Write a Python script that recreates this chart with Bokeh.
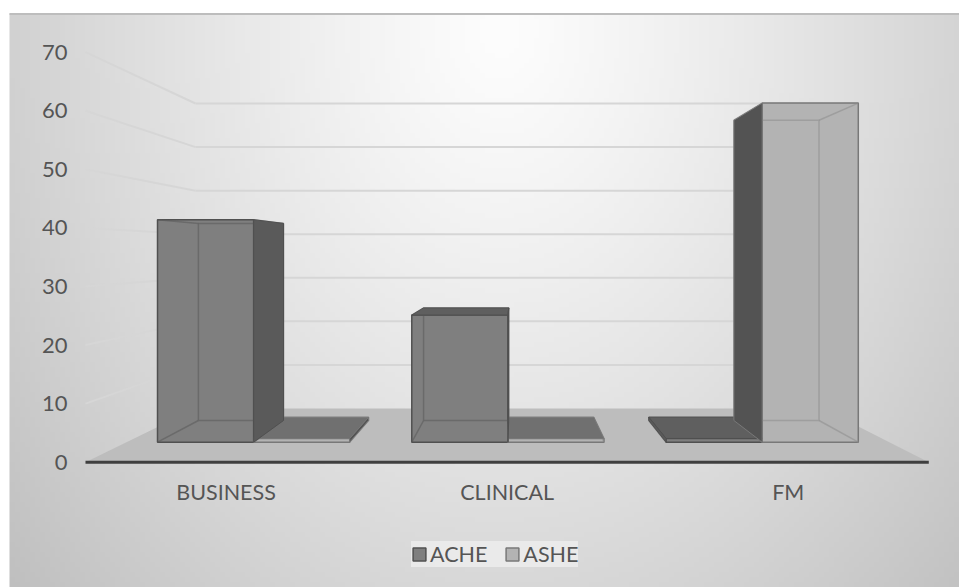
import numpy as np
from bokeh.plotting import figure
from bokeh.models import ColumnDataSource, Range1d, Legend, LegendItem
from bokeh.core.properties import value
from bokeh.embed import file_html
from bokeh.resources import INLINE

# ---- data -------------------------------------------------------------
categories = ["BUSINESS", "CLINICAL", "FM"]
series_names = ["ACHE", "ASHE"]
ache = [42, 24, 0]
ashe = [0, 0, 64]
y_ticks = [0, 10, 20, 30, 40, 50, 60, 70]

# ---- canvas / perspective set-up --------------------------------------
W, H = 959, 587
X_PX = 281.1            # pixels per category unit on the front plane
Y_PX = 5.857            # pixels per value unit on the front plane
ORIGIN = (85.0, 461.7)  # front-left floor corner (screen px)
VX = 1.528              # vanishing point, category units
EYE = 35.8              # horizon height, value units
BACK_Z = 0.3443         # depth of the back wall
BAR_Z = (0.1055, 0.2483)  # front / back depth of the columns
BAR_W = 0.378           # column width, category units
SLAB = 0.7              # drawn thickness of a zero column
FONT = "Lato"
TEXT_COLOR = "#555555"

STYLE = {
    "ACHE": dict(front="#7f7f7f", top="#5f5f5f", side="#5a5a5a", edge="#505050", inner="#5a5a5a"),
    "ASHE": dict(front="#b3b3b3", top="#707070", side="#535353", edge="#787878", inner="#8c8c8c"),
}


def px_x(px):
    return (px - ORIGIN[0]) / X_PX


def px_y(py):
    return (ORIGIN[1] - py) / Y_PX


def proj(X, Y, z):
    """Perspective projection of (category, value, depth) onto the front plane."""
    k = 1.0 / (1.0 + z)
    return VX + (X - VX) * k, EYE + (Y - EYE) * k


def poly(pts):
    xs, ys = zip(*[proj(*p) for p in pts])
    return list(xs), list(ys)


p = figure(width=W, height=H, output_backend="svg", toolbar_location=None,
           x_range=Range1d(px_x(0), px_x(W)), y_range=Range1d(px_y(H), px_y(0)),
           min_border=0, background_fill_color="white", border_fill_color="white",
           outline_line_color=None)
p.axis.visible = False
p.grid.visible = False

# ---- chart-area background gradient ------------------------------------
nx, ny = 190, 115
gx = 9 + (np.arange(nx) + 0.5) * (W - 9) / nx
gy = H - (np.arange(ny) + 0.5) * (H - 13) / ny
GX, GY = np.meshgrid(gx, gy)
r = np.sqrt(((GX - 500) / 490) ** 2 + ((GY - 30) / 640) ** 2)
shade = np.clip(253 - 44 * r ** 1.2, 0, 255).astype(np.uint8)
img = np.empty((ny, nx), dtype=np.uint32)
view = img.view(dtype=np.uint8).reshape((ny, nx, 4))
view[..., 0] = shade
view[..., 1] = shade
view[..., 2] = shade
view[..., 3] = 255
p.image_rgba(image=[img], x=px_x(9), y=px_y(H), dw=(W - 9) / X_PX, dh=(H - 13) / Y_PX)
p.line(x=[px_x(9), px_x(W)], y=[px_y(13.5)] * 2, line_color="#bdbdbd", line_width=2)

# ---- walls ---------------------------------------------------------------
n_cat = len(categories)
grid_vals = y_ticks[1:]
back = [poly([(0, v, BACK_Z), (n_cat, v, BACK_Z)]) for v in grid_vals]
side = [poly([(0, v, 0), (0, v, BACK_Z)]) for v in grid_vals]
p.multi_line(xs=[b[0] for b in back], ys=[b[1] for b in back], line_color="#d6d6d6", line_width=2)
p.multi_line(xs=[s[0] for s in side], ys=[s[1] for s in side], line_color="#d6d6d6", line_width=2)

fx, fy = poly([(0, 0, 0), (n_cat, 0, 0), (n_cat, 0, BACK_Z), (0, 0, BACK_Z)])
p.patch(fx, fy, fill_color="#bdbdbd", line_color=None)
ax_x, ax_y = poly([(0, 0, 0), (n_cat, 0, 0)])
p.line(ax_x, ax_y, line_color="#3f3f3f", line_width=3)

# ---- columns -------------------------------------------------------------
zf, zb = BAR_Z
faces = {s: dict(front=([], []), inner=([], []), top=([], []), side=([], [])) for s in series_names}
for i, cat in enumerate(categories):
    for si, (name, vals) in enumerate(zip(series_names, [ache, ashe])):
        X0 = i + 0.5 - BAR_W if si == 0 else i + 0.5
        X1 = X0 + BAR_W
        h = max(vals[i], SLAB)
        f = faces[name]
        # front face
        xs, ys = poly([(X0, 0, zf), (X1, 0, zf), (X1, h, zf), (X0, h, zf)])
        f["front"][0].append(xs); f["front"][1].append(ys)
        # hidden edges seen through the translucent column
        for pts in ([(X0, 0, zb), (X1, 0, zb), (X1, h, zb), (X0, h, zb), (X0, 0, zb)],
                    [(X0, 0, zf), (X0, 0, zb)], [(X1, 0, zf), (X1, 0, zb)],
                    [(X0, h, zf), (X0, h, zb)], [(X1, h, zf), (X1, h, zb)]):
            xs, ys = poly(pts)
            f["inner"][0].append(xs); f["inner"][1].append(ys)
        # top face visible when below the horizon
        if h < EYE:
            xs, ys = poly([(X0, h, zf), (X1, h, zf), (X1, h, zb), (X0, h, zb)])
            f["top"][0].append(xs); f["top"][1].append(ys)
        # side face facing the vanishing point
        if X1 < VX:
            xs, ys = poly([(X1, 0, zf), (X1, 0, zb), (X1, h, zb), (X1, h, zf)])
            f["side"][0].append(xs); f["side"][1].append(ys)
        elif X0 > VX:
            xs, ys = poly([(X0, 0, zf), (X0, 0, zb), (X0, h, zb), (X0, h, zf)])
            f["side"][0].append(xs); f["side"][1].append(ys)

front_r = {}
for name in series_names:
    st = STYLE[name]
    xs, ys = faces[name]["front"]
    front_r[name] = p.patches(xs, ys, fill_color=st["front"], line_color=st["edge"], line_width=1.5)
for name in series_names:
    st = STYLE[name]
    xs, ys = faces[name]["inner"]
    p.multi_line(xs, ys, line_color=st["inner"], line_width=1.5, line_alpha=0.55)
for name in series_names:
    st = STYLE[name]
    xs, ys = faces[name]["top"]
    if xs:
        p.patches(xs, ys, fill_color=st["top"], line_color=st["edge"], line_width=1)
for name in series_names:
    st = STYLE[name]
    xs, ys = faces[name]["side"]
    if xs:
        p.patches(xs, ys, fill_color=st["side"], line_color=st["edge"], line_width=1)

# ---- labels ----------------------------------------------------------------
p.text(x=[0] * len(y_ticks), y=y_ticks, text=[str(t) for t in y_ticks],
       x_offset=-18, text_align="right", text_baseline="middle",
       text_font=value(FONT), text_font_size="22px", text_color=TEXT_COLOR)
p.text(x=[i + 0.5 for i in range(n_cat)], y=[0] * n_cat, text=categories,
       y_offset=30, text_align="center", text_baseline="middle",
       text_font=value(FONT), text_font_size="21.5px", text_color=TEXT_COLOR)

legend = Legend(items=[LegendItem(label=n, renderers=[front_r[n]]) for n in series_names],
                location=(411, 20), orientation="horizontal", margin=0,
                padding=14, spacing=17, label_standoff=3,
                glyph_width=16, glyph_height=16,
                label_text_font=FONT, label_text_font_size="21.5px", label_text_color=TEXT_COLOR,
                background_fill_color="#ededed", background_fill_alpha=0.8,
                border_line_color=None)
p.add_layout(legend)

open("out.html", "w").write(file_html(p, INLINE))
